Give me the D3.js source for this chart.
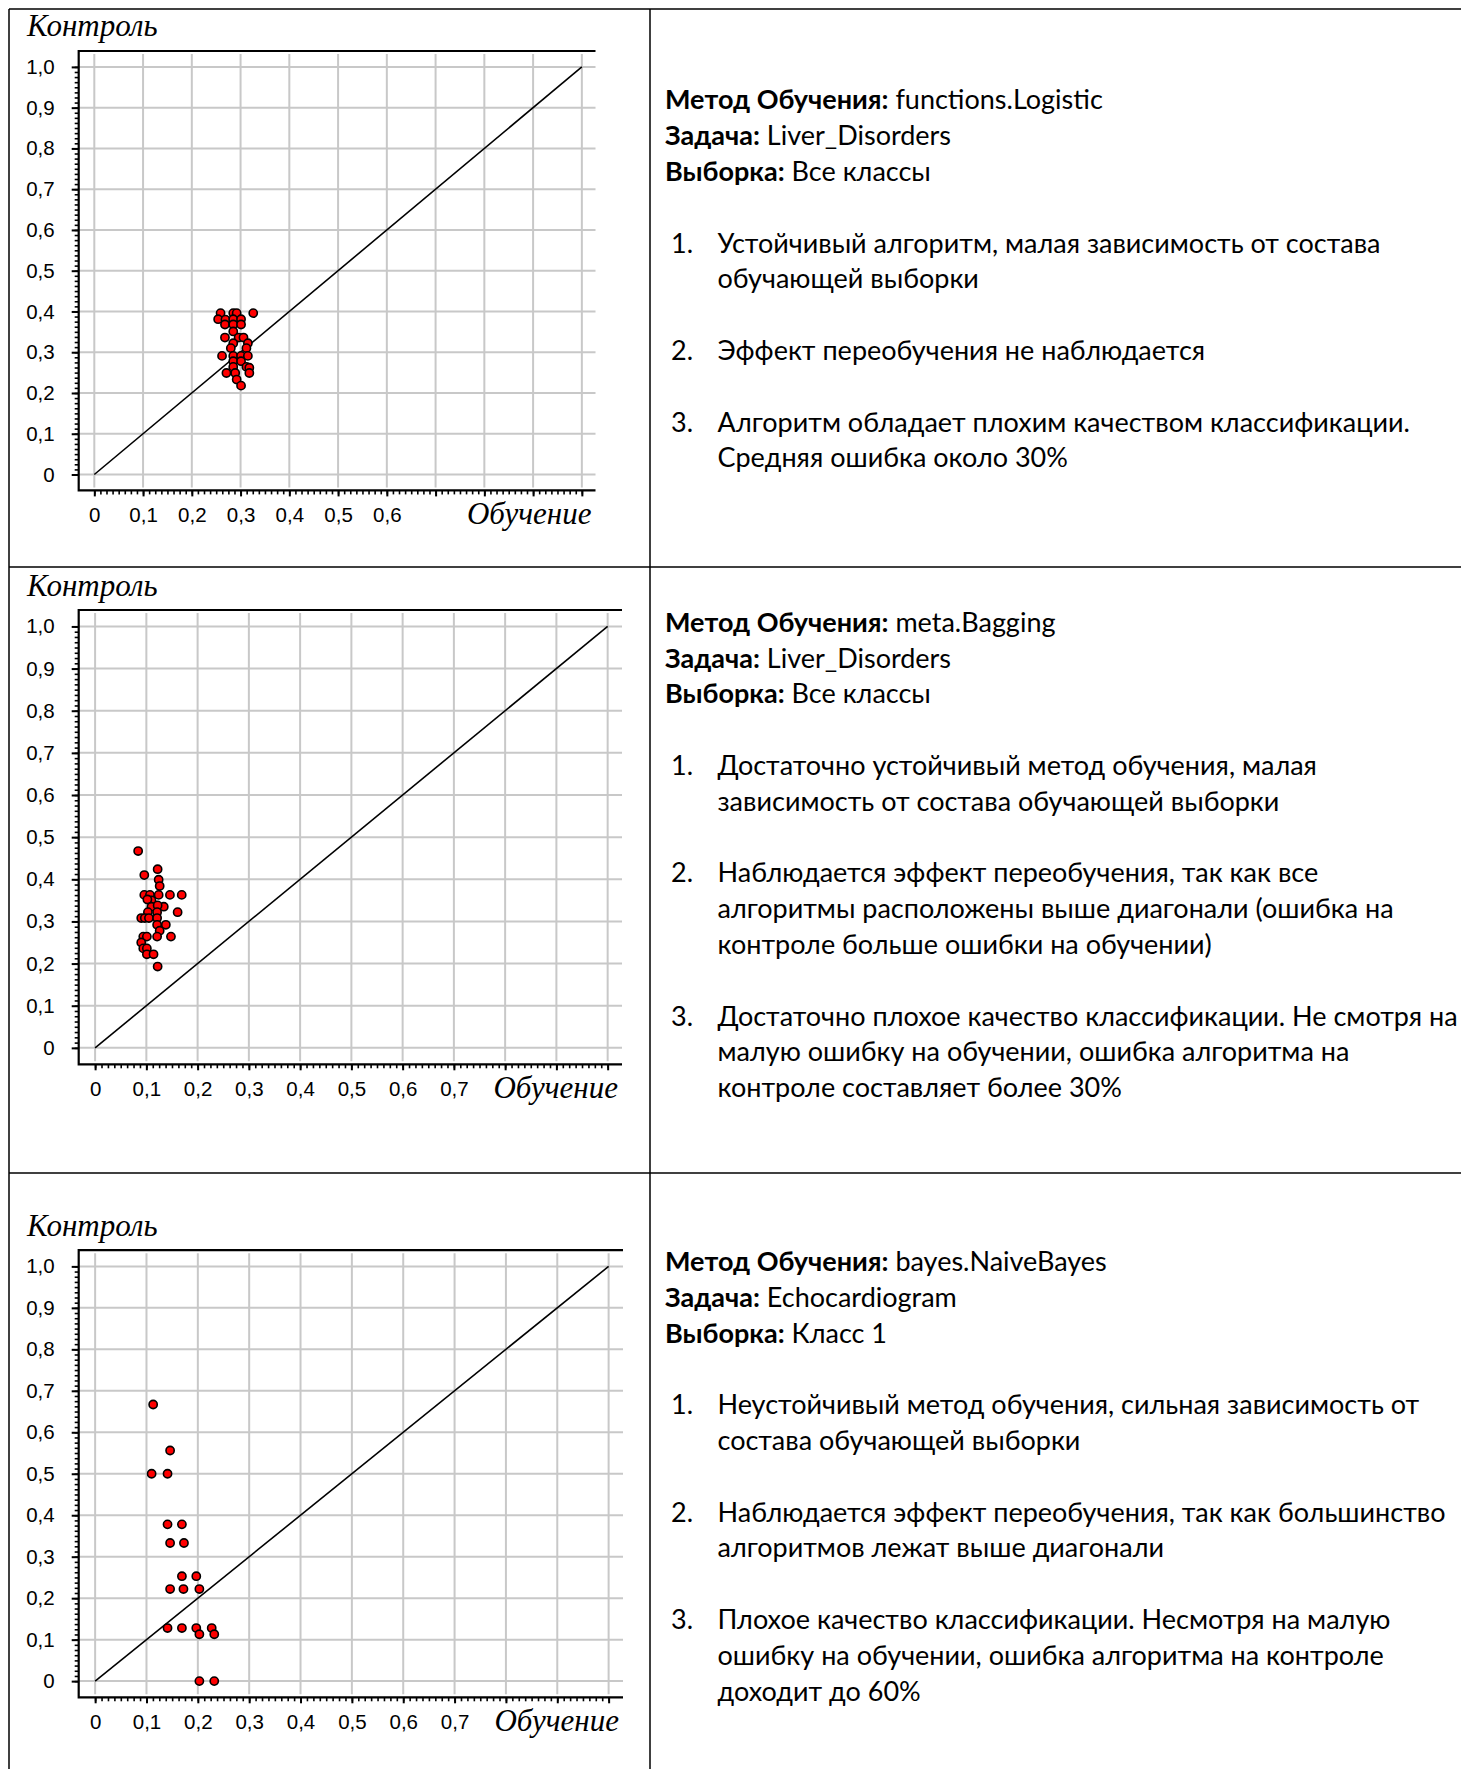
<!DOCTYPE html>
<html lang="ru">
<head>
<meta charset="utf-8">
<title>Обучение / Контроль</title>
<script src="https://cdn.jsdelivr.net/npm/d3@7/dist/d3.min.js"></script>
<style>
  html, body { margin: 0; padding: 0; background: #fff; }
  svg { display: block; }
  .tick-label { font-family: "Liberation Sans", Arial, sans-serif; font-size: 20.5px; fill: #000; }
  .axis-title { font-family: "Liberation Serif", "Times New Roman", serif; font-style: italic; font-size: 31px; fill: #000; }
  .desc { font-family: Lato, "Noto Sans", sans-serif; font-size: 27px; fill: #000; }
  .desc .b { font-weight: 700; }
</style>
</head>
<body>
<svg id="page" width="1461" height="1769"></svg>
<script>
// ---- Data: error on training set (Обучение) vs error on control set (Контроль) ----

// functions.Logistic, Liver_Disorders, all classes
const logisticTrain = [0.259, 0.285, 0.292, 0.326, 0.254, 0.269, 0.285, 0.301, 0.268, 0.285, 0.301,
  0.285, 0.268, 0.296, 0.306, 0.285, 0.315, 0.280, 0.312, 0.262, 0.285, 0.301, 0.315, 0.285, 0.301,
  0.285, 0.312, 0.318, 0.271, 0.289, 0.318, 0.292, 0.301];
const logisticTest = [0.396, 0.396, 0.396, 0.396, 0.381, 0.380, 0.381, 0.381, 0.368, 0.368, 0.368,
  0.351, 0.336, 0.336, 0.336, 0.322, 0.322, 0.310, 0.310, 0.291, 0.291, 0.291, 0.291, 0.278, 0.278,
  0.264, 0.264, 0.262, 0.249, 0.249, 0.249, 0.233, 0.218];

// meta.Bagging, Liver_Disorders, all classes
const baggingTrain = [0.084, 0.122, 0.096, 0.124, 0.126, 0.096, 0.107, 0.124, 0.146, 0.169, 0.110,
  0.102, 0.110, 0.134, 0.122, 0.103, 0.121, 0.161, 0.090, 0.097, 0.105, 0.121, 0.121, 0.138, 0.126,
  0.094, 0.101, 0.121, 0.148, 0.090, 0.094, 0.101, 0.101, 0.114, 0.122];
const baggingTest = [0.467, 0.424, 0.410, 0.399, 0.384, 0.363, 0.363, 0.363, 0.363, 0.363, 0.350,
  0.352, 0.335, 0.335, 0.338, 0.322, 0.322, 0.322, 0.308, 0.308, 0.308, 0.308, 0.292, 0.292, 0.278,
  0.264, 0.264, 0.264, 0.264, 0.250, 0.236, 0.236, 0.222, 0.222, 0.193];

// bayes.NaiveBayes, Echocardiogram, class 1
const bayesTrain = [0.113, 0.146, 0.110, 0.141, 0.141, 0.169, 0.146, 0.173, 0.169, 0.197, 0.146,
  0.172, 0.203, 0.141, 0.169, 0.197, 0.227, 0.203, 0.232, 0.203, 0.232];
const bayesTest = [0.667, 0.556, 0.500, 0.500, 0.378, 0.378, 0.333, 0.333, 0.253, 0.253, 0.222,
  0.222, 0.222, 0.128, 0.128, 0.128, 0.128, 0.113, 0.113, 0.000, 0.000];

// Axis ticks and labels
const yTickValues = [0, 0.1, 0.2, 0.3, 0.4, 0.5, 0.6, 0.7, 0.8, 0.9, 1.0];
const yTickLabels = ["0", "0,1", "0,2", "0,3", "0,4", "0,5", "0,6", "0,7", "0,8", "0,9", "1,0"];
const xTickLabelsShort = ["0", "0,1", "0,2", "0,3", "0,4", "0,5", "0,6"];
const xTickLabelsLong = ["0", "0,1", "0,2", "0,3", "0,4", "0,5", "0,6", "0,7"];
const gridValues = [0, 0.1, 0.2, 0.3, 0.4, 0.5, 0.6, 0.7, 0.8, 0.9, 1.0];
const minorStep = 0.0125;
const yTitle = "Контроль";
const xTitle = "Обучение";

// Description texts
const methods = ["functions.Logistic", "meta.Bagging", "bayes.NaiveBayes"];
const tasks = ["Liver_Disorders", "Liver_Disorders", "Echocardiogram"];
const samples = ["Все классы", "Все классы", "Класс 1"];
const conclusions = [
  [
    ["Устойчивый алгоритм, малая зависимость от состава", "обучающей выборки"],
    ["Эффект переобучения не наблюдается"],
    ["Алгоритм обладает плохим качеством классификации.", "Средняя ошибка около 30%"]
  ],
  [
    ["Достаточно устойчивый метод обучения, малая", "зависимость от состава обучающей выборки"],
    ["Наблюдается эффект переобучения, так как все", "алгоритмы расположены выше диагонали (ошибка на", "контроле больше ошибки на обучении)"],
    ["Достаточно плохое качество классификации. Не смотря на", "малую ошибку на обучении, ошибка алгоритма на", "контроле составляет более 30%"]
  ],
  [
    ["Неустойчивый метод обучения, сильная зависимость от", "состава обучающей выборки"],
    ["Наблюдается эффект переобучения, так как большинство", "алгоритмов лежат выше диагонали"],
    ["Плохое качество классификации. Несмотря на малую", "ошибку на обучении, ошибка алгоритма на контроле", "доходит до 60%"]
  ]
];

// ---- Layout ----
const W = 1461, H = 1769;
const tableLeft = 9, tableTop = 9, colSplit = 650;
const rowLines = [567, 1173];

const panels = [
  { train: logisticTrain, test: logisticTest, xLabels: xTickLabelsShort,
    frame: { left: 78.7, right: 595.5, top: 51, bottom: 490.4 }, titleY: 35.7, textY: 109.3 },
  { train: baggingTrain, test: baggingTest, xLabels: xTickLabelsLong,
    frame: { left: 78.7, right: 622, top: 610, bottom: 1064.3 }, titleY: 595.7, textY: 631.7 },
  { train: bayesTrain, test: bayesTest, xLabels: xTickLabelsLong,
    frame: { left: 78.7, right: 623, top: 1250.2, bottom: 1697.3 }, titleY: 1236.3, textY: 1271 }
];

const xPad = [-0.032, 1.028];
const yPad = [-0.039, 1.039];
const lineH = 35.8;

const svg = d3.select("#page");
svg.append("rect").attr("width", W).attr("height", H).attr("fill", "#fff");

// table rules
const rules = svg.append("g").attr("stroke", "#000").attr("stroke-width", 1.5);
rules.append("line").attr("x1", tableLeft).attr("x2", W).attr("y1", tableTop).attr("y2", tableTop);
rules.append("line").attr("x1", tableLeft).attr("x2", tableLeft).attr("y1", tableTop).attr("y2", H);
rules.append("line").attr("x1", colSplit).attr("x2", colSplit).attr("y1", tableTop).attr("y2", H);
rowLines.forEach(y => rules.append("line").attr("x1", tableLeft).attr("x2", W).attr("y1", y).attr("y2", y));

panels.forEach((p, i) => {
  const f = p.frame;
  const x = d3.scaleLinear().domain(xPad).range([f.left, f.right]);
  const y = d3.scaleLinear().domain(yPad).range([f.bottom, f.top]);
  const g = svg.append("g");

  // grid
  const grid = g.append("g").attr("stroke", "#c8c8c8").attr("stroke-width", 2);
  grid.selectAll("line.v").data(gridValues).join("line").attr("class", "v")
    .attr("x1", d => x(d)).attr("x2", d => x(d))
    .attr("y1", f.top + 3).attr("y2", f.bottom - 3);
  grid.selectAll("line.h").data(gridValues).join("line").attr("class", "h")
    .attr("x1", f.left).attr("x2", f.right)
    .attr("y1", d => y(d)).attr("y2", d => y(d));

  // diagonal y = x
  g.append("line")
    .attr("x1", x(0)).attr("y1", y(0)).attr("x2", x(1)).attr("y2", y(1))
    .attr("stroke", "#000").attr("stroke-width", 1.6);

  // minor ticks
  const minor = d3.range(0, 1 + 1e-9, minorStep);
  g.append("g").attr("transform", `translate(${f.left},0)`)
    .call(d3.axisLeft(y).tickValues(minor).tickSize(4).tickFormat(""))
    .call(a => a.select(".domain").remove())
    .call(a => a.selectAll("line").attr("stroke", "#000").attr("stroke-width", 1.6));
  g.append("g").attr("transform", `translate(0,${f.bottom})`)
    .call(d3.axisBottom(x).tickValues(minor).tickSize(4).tickFormat(""))
    .call(a => a.select(".domain").remove())
    .call(a => a.selectAll("line").attr("stroke", "#000").attr("stroke-width", 1.6));

  // major ticks + labels
  g.append("g").attr("transform", `translate(${f.left},0)`)
    .call(d3.axisLeft(y).tickValues(yTickValues).tickSize(7).tickPadding(17)
      .tickFormat((d, k) => yTickLabels[k]))
    .call(a => a.select(".domain").remove())
    .call(a => a.selectAll("line").attr("stroke", "#000").attr("stroke-width", 2))
    .call(a => a.selectAll("text").attr("class", "tick-label").attr("fill", "#000")
      .attr("font-family", null).attr("font-size", null));
  g.append("g").attr("transform", `translate(0,${f.bottom})`)
    .call(d3.axisBottom(x).tickValues(gridValues).tickSize(6).tickPadding(11)
      .tickFormat((d, k) => k < p.xLabels.length ? p.xLabels[k] : ""))
    .call(a => a.select(".domain").remove())
    .call(a => a.selectAll("line").attr("stroke", "#000").attr("stroke-width", 2))
    .call(a => a.selectAll("text").attr("class", "tick-label").attr("fill", "#000")
      .attr("font-family", null).attr("font-size", null));

  // frame: top, left, bottom
  const fr = g.append("g").attr("stroke", "#000").attr("stroke-width", 2.2).attr("fill", "none");
  fr.append("path").attr("d", `M${f.right},${f.top}H${f.left}V${f.bottom}H${f.right}`);

  // points
  const pts = p.train.map((t, k) => [t, p.test[k]]);
  g.append("g").selectAll("circle").data(pts).join("circle")
    .attr("cx", d => x(d[0])).attr("cy", d => y(d[1])).attr("r", 4.1)
    .attr("fill", "#ff0000").attr("stroke", "#000").attr("stroke-width", 1.6);

  // axis titles
  g.append("text").attr("class", "axis-title").attr("x", 27).attr("y", p.titleY).text(yTitle);
  g.append("text").attr("class", "axis-title").attr("text-anchor", "end")
    .attr("x", f.right - 4).attr("y", f.bottom + 34).text(xTitle);

  // description
  const d = svg.append("text").attr("class", "desc");
  const headers = [["Метод Обучения:", methods[i]], ["Задача:", tasks[i]], ["Выборка:", samples[i]]];
  headers.forEach((h, k) => {
    const t = d.append("tspan").attr("x", 665).attr("y", p.textY + k * lineH);
    t.append("tspan").attr("class", "b").text(h[0]);
    t.append("tspan").text(" " + h[1]);
  });
  let line = 4;
  conclusions[i].forEach((item, n) => {
    d.append("tspan").attr("x", 671).attr("y", p.textY + line * lineH).text((n + 1) + ".");
    item.forEach(s => {
      d.append("tspan").attr("x", 717.5).attr("y", p.textY + line * lineH).text(s);
      line += 1;
    });
    line += 1;
  });
});
</script>
</body>
</html>
